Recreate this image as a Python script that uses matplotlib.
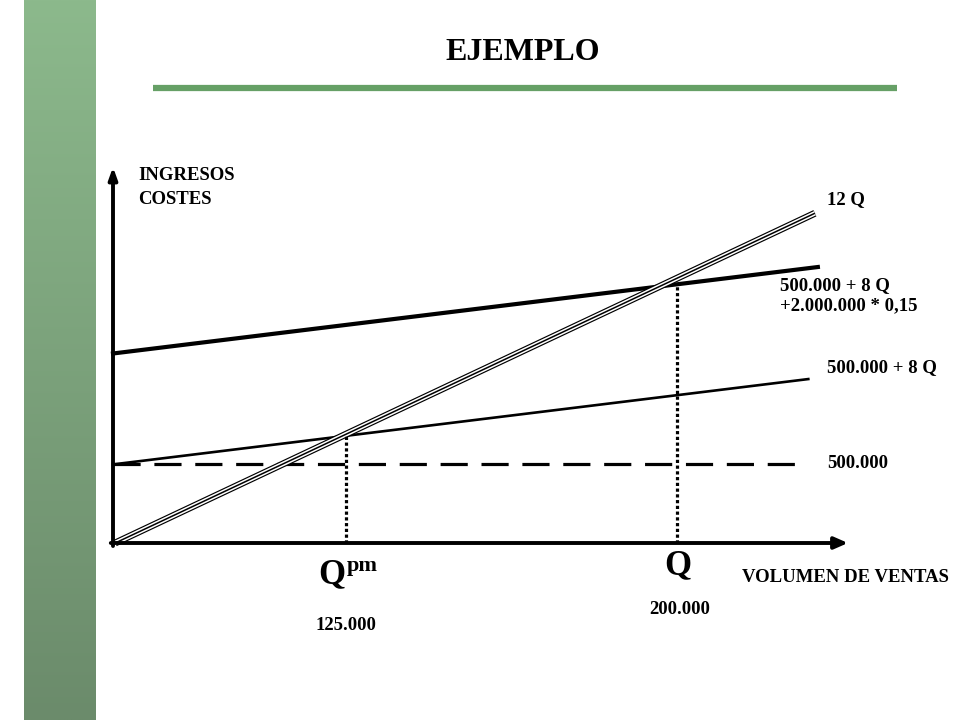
import numpy as np
import matplotlib
matplotlib.use("Agg")
import matplotlib.pyplot as plt
from matplotlib.colors import LinearSegmentedColormap

# ---- data (chart units: x 0..100 along volume axis, y 0..100 along revenue/cost axis) ----
revenue_x = [0.3, 95.5]          # 12 Q
revenue_y = [0.0, 87.7]
cost_total_x = [0.0, 95.9]       # 500.000 + 8 Q + 2.000.000 * 0,15
cost_total_y = [50.4, 73.4]
cost_x = [0.0, 94.6]             # 500.000 + 8 Q
cost_y = [20.9, 43.6]
fixed_x = [0.0, 93.5]            # 500.000
fixed_y = [20.9, 20.9]
q_pm = 31.7                      # break-even 125.000
q_pm_y = 28.7
q_2 = 76.7                       # 200.000
q_2_y = 68.7

line_labels = ["12 Q", "500.000 + 8 Q\n+2.000.000 * 0,15", "500.000 + 8 Q", "500.000"]
qty_labels = ["125.000", "200.000"]

W, H = 960, 720
fig = plt.figure(figsize=(9.6, 7.2), dpi=100)
fig.patch.set_facecolor("white")
SERIF = ["Liberation Serif", "DejaVu Serif"]

def P(x, y):
    return (x / W, 1 - y / H)

# green side bar with gradient
gax = fig.add_axes([24 / W, 0, 72 / W, 1])
cmap = LinearSegmentedColormap.from_list("g", ["#8cb98c", "#6b8b6b"])
gax.imshow(np.linspace(0, 1, 256).reshape(-1, 1), aspect="auto", cmap=cmap,
           extent=[0, 1, 0, 1], origin="upper")
gax.set_axis_off()

# title and underline
fig.text(*P(523, 52), "EJEMPLO", ha="center", va="center", fontsize=23,
         fontweight="bold", family=SERIF)
fig.add_artist(plt.Line2D([153 / W, 897 / W], [1 - 88 / H, 1 - 88 / H],
                          color="#66a066", lw=4.5, solid_capstyle="butt"))

# main chart axes
left, right, bottom, top = 113, 848, 543, 167
ax = fig.add_axes([left / W, 1 - bottom / H, (right - left) / W, (bottom - top) / H])
ax.set_xlim(0, 100)
ax.set_ylim(0, 100)
ax.set_axis_off()

# axes with arrows
ax.annotate("", xy=(0, 100), xytext=(0, -0.8),
            arrowprops=dict(arrowstyle="-|>,head_length=0.7,head_width=0.25",
                            color="black", lw=2.8, shrinkA=0, shrinkB=0),
            annotation_clip=False)
ax.annotate("", xy=(100, 0), xytext=(-0.3, 0),
            arrowprops=dict(arrowstyle="-|>,head_length=0.8,head_width=0.35",
                            color="black", lw=2.8, shrinkA=0, shrinkB=0),
            annotation_clip=False)

# fixed costs (dashed)
ax.plot(fixed_x, fixed_y, color="black", lw=2.3, dashes=(8.5, 4.3), clip_on=False,
        solid_capstyle="butt", dash_capstyle="butt")
# variable cost line
ax.plot(cost_x, cost_y, color="black", lw=1.9, clip_on=False)
# total cost line with opportunity cost
ax.plot(cost_total_x, cost_total_y, color="black", lw=3.0, clip_on=False)
# revenue (triple line)
ax.plot(revenue_x, revenue_y, color="black", lw=5.0, clip_on=False, solid_capstyle="butt")
ax.plot(revenue_x, revenue_y, color="white", lw=3.3, clip_on=False, solid_capstyle="butt")
ax.plot(revenue_x, revenue_y, color="black", lw=1.1, clip_on=False, solid_capstyle="butt")

# dotted verticals
ax.plot([q_pm, q_pm], [0, q_pm_y], color="black", lw=2.3, linestyle=(0, (1, 0.8)),
        clip_on=False, dash_capstyle="butt")
ax.plot([q_2, q_2], [0, q_2_y], color="black", lw=2.3, linestyle=(0, (1, 0.8)),
        clip_on=False, dash_capstyle="butt")

# text labels
fs = 13.5
fig.text(*P(138, 176), "INGRESOS", ha="left", va="center", fontsize=fs,
         fontweight="bold", family=SERIF)
fig.text(*P(138, 199), "COSTES", ha="left", va="center", fontsize=fs,
         fontweight="bold", family=SERIF)
fig.text(*P(827, 200), line_labels[0], ha="left", va="center", fontsize=fs,
         fontweight="bold", family=SERIF)
fig.text(*P(780, 296), line_labels[1], ha="left", va="center", fontsize=fs,
         fontweight="bold", family=SERIF, linespacing=1.25)
fig.text(*P(827, 368), line_labels[2], ha="left", va="center", fontsize=fs,
         fontweight="bold", family=SERIF)
fig.text(*P(827, 464), line_labels[3], ha="left", va="center", fontsize=fs,
         fontweight="bold", family=SERIF)
fig.text(*P(742, 578), "VOLUMEN DE VENTAS", ha="left", va="center", fontsize=fs,
         fontweight="bold", family=SERIF)

fig.text(*P(332, 575), r"Q", ha="center", va="center", fontsize=25,
         fontweight="bold", family=SERIF)
fig.text(*P(347, 566), "pm", ha="left", va="center", fontsize=16,
         fontweight="bold", family=SERIF)
fig.text(*P(678, 566), "Q", ha="center", va="center", fontsize=25,
         fontweight="bold", family=SERIF)
fig.text(*P(346, 625), qty_labels[0], ha="center", va="center", fontsize=fs,
         fontweight="bold", family=SERIF)
fig.text(*P(680, 609), qty_labels[1], ha="center", va="center", fontsize=fs,
         fontweight="bold", family=SERIF)

fig.savefig("out.png", dpi=100, facecolor="white")
